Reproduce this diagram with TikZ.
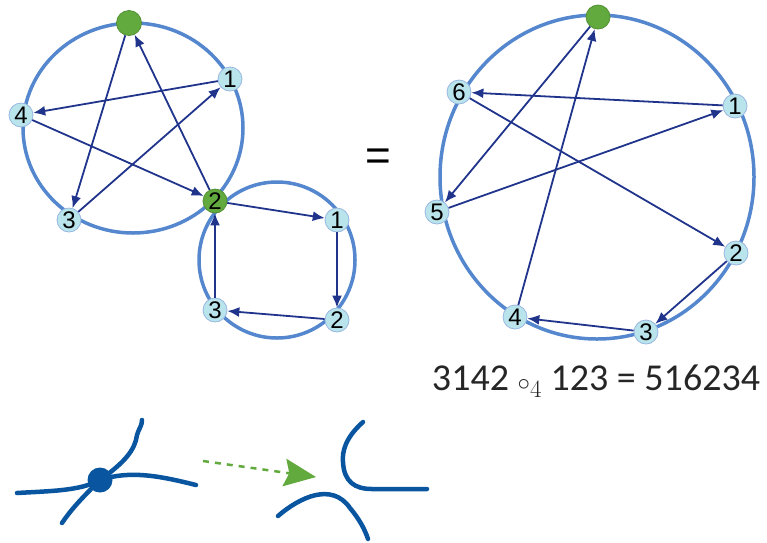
\documentclass[tikz,border=0pt]{standalone}
\usepackage{fontspec}
\setmainfont{Liberation Sans}
\newfontfamily\formfont{Carlito}
\usetikzlibrary{arrows.meta}
\definecolor{ring}{RGB}{84,135,205}
\definecolor{arr}{RGB}{32,52,140}
\definecolor{nodefill}{RGB}{185,228,235}
\definecolor{grn}{RGB}{98,170,62}
\definecolor{curvecol}{RGB}{10,85,160}
\begin{document}
\begin{tikzpicture}[x=1pt,y=-1pt,
  ringline/.style={draw=ring,line width=3.5pt},
  vtx/.style={circle,inner sep=0pt,minimum size=24pt,fill=nodefill,draw=ring!60,line width=0.8pt,font=\fontsize{24}{24}\selectfont},
  gvtx/.style={vtx,fill=grn,draw=grn!85!black},
  edge/.style={draw=arr,line width=1.8pt,-{Latex[length=12pt,width=10pt]}},
  bcurve/.style={draw=curvecol,line width=4.5pt,line cap=round}]
\useasboundingbox (0,0) rectangle (767,542);
% rings
\draw[ringline] (133,128) ellipse [x radius=110pt, y radius=105pt];
\draw[ringline] (277,260) ellipse [x radius=78pt, y radius=78pt];
\draw[ringline] (597,177) ellipse [x radius=157pt, y radius=162pt];
% left pentagram
\node[gvtx,minimum size=25pt] (lt) at (129,23) {};
\node[vtx] (l1) at (230,79) {1};
\node[vtx] (l4) at (21,115) {4};
\node[vtx] (l3) at (69,220) {3};
\node[gvtx] (l2) at (215,201) {2};
% small ring
\node[vtx] (s1) at (337,220) {1};
\node[vtx] (s2) at (337,320) {2};
\node[vtx] (s3) at (215,310) {3};
% right ring
\node[gvtx] (rt) at (598,17) {};
\node[vtx] (r6) at (459,92) {6};
\node[vtx] (r1) at (735,106) {1};
\node[vtx] (r5) at (437,212) {5};
\node[vtx] (r2) at (736,253) {2};
\node[vtx] (r3) at (646,332) {3};
\node[vtx] (r4) at (515,317) {4};
% edges
\draw[edge] (lt) -- (l3);
\draw[edge] (l2) -- (lt);
\draw[edge] (l1) -- (l4);
\draw[edge] (l3) -- (l1);
\draw[edge] (l4) -- (l2);
\draw[edge] (l2) -- (s1);
\draw[edge] (s1) -- (s2);
\draw[edge] (s2) -- (s3);
\draw[edge] (s3) -- (l2);
\draw[edge] (r1) -- (r6);
\draw[edge] (r5) -- (r1);
\draw[edge] (rt) -- (r5);
\draw[edge] (r4) -- (rt);
\draw[edge] (r6) -- (r2);
\draw[edge] (r2) -- (r3);
\draw[edge] (r3) -- (r4);
% equals and formula
\node[font=\fontsize{44}{44}\selectfont] (eq) at (378,160) {=};
\node[font=\formfont\fontsize{38}{38}\selectfont,text=black!85] (form) at (596,381) {3142 $\circ_4$ 123 = 516234};
% bottom: vertex
\node[circle,fill=curvecol,inner sep=0pt,minimum size=25pt] (blob) at (100,480) {};
\draw[bcurve] (17,493) .. controls (50,491) and (80,491) .. (blob.center);
\draw[bcurve] (blob.center) .. controls (130,470) and (160,476) .. (196,485);
\draw[bcurve] (blob.center) .. controls (125,462) and (135,450) .. (137,435) .. controls (139,428) and (142,426) .. (142,420);
\draw[bcurve] (blob.center) .. controls (85,495) and (72,508) .. (62,523);
% dashed arrow
\coordinate (ds) at (203,461);
\coordinate (de) at (316,477);
\draw[draw=grn,line width=2.5pt,dash pattern=on 6pt off 6pt,-{Stealth[length=32pt,width=28pt,inset=5pt,fill=grn,line width=0pt]}] (ds) -- (de);
% smoothed curves
\draw[bcurve] (363,422) .. controls (345,438) and (342,452) .. (343,462) .. controls (344,482) and (355,489) .. (372,489) -- (427,489);
\draw[bcurve] (278,516) .. controls (300,497) and (332,482) .. (350,508) .. controls (360,520) and (365,530) .. (368,539);
\end{tikzpicture}
\end{document}
